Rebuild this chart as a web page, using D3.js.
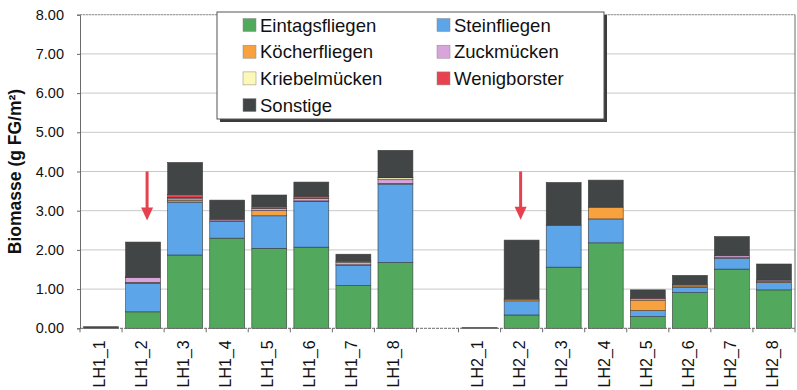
<!DOCTYPE html>
<html>
<head>
<meta charset="utf-8">
<script src="https://cdn.jsdelivr.net/npm/d3@7"></script>
<style>
  html, body { margin: 0; padding: 0; background: #fff; }
  svg { display: block; font-family: Arial, "Liberation Sans", sans-serif; }
</style>
</head>
<body>
<svg id="chart" width="797" height="390"></svg>
<script>
// Sampling sites (empty slot separates the two groups)
const categories = ["LH1_1","LH1_2","LH1_3","LH1_4","LH1_5","LH1_6","LH1_7","LH1_8","",
                    "LH2_1","LH2_2","LH2_3","LH2_4","LH2_5","LH2_6","LH2_7","LH2_8"];

// Biomass per taxon group (g FG/m²)
const eintagsfliegen = [0, 0.42, 1.87, 2.30, 2.04, 2.07, 1.09, 1.68, 0, 0, 0.34, 1.56, 2.18, 0.30, 0.91, 1.51, 0.98];
const steinfliegen   = [0, 0.73, 1.35, 0.42, 0.83, 1.17, 0.51, 2.00, 0, 0, 0.36, 1.07, 0.61, 0.15, 0.13, 0.28, 0.19];
const koecherfliegen = [0, 0.02, 0.05, 0.02, 0.13, 0.01, 0.02, 0.01, 0, 0, 0.03, 0.00, 0.30, 0.27, 0.04, 0.01, 0.02];
const zuckmuecken    = [0, 0.13, 0.05, 0.04, 0.06, 0.06, 0.06, 0.10, 0, 0, 0.02, 0.00, 0.00, 0.04, 0.03, 0.05, 0.04];
const kriebelmuecken = [0, 0.00, 0.02, 0.00, 0.00, 0.00, 0.02, 0.05, 0, 0, 0.00, 0.00, 0.00, 0.00, 0.00, 0.00, 0.00];
const wenigborster   = [0, 0.01, 0.07, 0.02, 0.04, 0.06, 0.03, 0.01, 0, 0, 0.00, 0.00, 0.00, 0.02, 0.00, 0.00, 0.00];
const sonstige       = [0.04, 0.89, 0.82, 0.47, 0.30, 0.36, 0.16, 0.69, 0, 0.02, 1.50, 1.09, 0.69, 0.20, 0.24, 0.49, 0.41];

const seriesNames  = ["Eintagsfliegen","Steinfliegen","Köcherfliegen","Zuckmücken","Kriebelmücken","Wenigborster","Sonstige"];
const seriesValues = [eintagsfliegen, steinfliegen, koecherfliegen, zuckmuecken, kriebelmuecken, wenigborster, sonstige];
const seriesColors = ["#52a85d","#5ba5e8","#f8a13f","#d7a5dc","#fbf8b8","#e8414f","#424545"];

const yTicks = [0,1,2,3,4,5,6,7,8];
const yMax = 8;

// Arrows marking sampled sites
const arrows = [{cat: "LH1_2", top: 4.0, tip: 2.75, dx: 4}, {cat: "LH2_2", top: 4.0, tip: 2.77, dx: -1}];

const svg = d3.select("#chart");
const plot = {left: 80, right: 795, top: 14.7, bottom: 328.3};

const x = d3.scaleBand().domain(categories.map((c, i) => i))
  .range([plot.left, plot.right]).paddingInner(0.17).paddingOuter(0.085);
const y = d3.scaleLinear().domain([0, yMax]).range([plot.bottom, plot.top]);

// Gridlines
svg.append("g").selectAll("line").data(yTicks.slice(1)).join("line")
  .attr("x1", plot.left).attr("x2", plot.right)
  .attr("y1", d => y(d)).attr("y2", d => y(d))
  .attr("stroke", "#c8c8c8").attr("stroke-width", 1);

// Plot frame
svg.append("line").attr("x1", plot.left).attr("x2", plot.right)
  .attr("y1", y(yMax)).attr("y2", y(yMax))
  .attr("stroke", "#9a9a9a").attr("stroke-dasharray", "2,1");
svg.append("line").attr("x1", plot.right).attr("x2", plot.right)
  .attr("y1", y(yMax)).attr("y2", y(0)).attr("stroke", "#6a6a6a");

// Stacked data
const rows = categories.map((c, i) => {
  const r = {idx: i};
  seriesNames.forEach((s, k) => r[s] = seriesValues[k][i]);
  return r;
});
const stacked = d3.stack().keys(seriesNames)(rows);

svg.append("g").selectAll("g").data(stacked).join("g")
  .attr("fill", (d, k) => seriesColors[k])
  .selectAll("rect").data(d => d.filter(p => p[1] - p[0] > 0)).join("rect")
  .attr("x", p => x(p.data.idx))
  .attr("width", x.bandwidth())
  .attr("y", p => y(p[1]))
  .attr("height", p => y(p[0]) - y(p[1]))
  .attr("stroke", "#3a3a3a").attr("stroke-width", 0.6);

// Y axis
const yAxis = svg.append("g").attr("transform", `translate(${plot.left},0)`)
  .call(d3.axisLeft(y).tickValues(yTicks).tickFormat(d3.format(".2f")).tickSize(3).tickPadding(13));
yAxis.select(".domain").attr("stroke", "#6a6a6a");
yAxis.selectAll(".tick line").attr("stroke", "#6a6a6a");
yAxis.selectAll("text").attr("font-size", 14.5).attr("fill", "#111").attr("font-family", "Arial, 'Liberation Sans', sans-serif");

// X axis with ticks on category boundaries
const xAxisG = svg.append("g").attr("transform", `translate(0,${plot.bottom})`);
xAxisG.append("line").attr("x1", plot.left).attr("x2", plot.right)
  .attr("stroke", "#6a6a6a").attr("stroke-dasharray", "3,1");
xAxisG.selectAll("line.tk").data(d3.range(categories.length + 1)).join("line")
  .attr("class", "tk")
  .attr("x1", i => plot.left + i * (plot.right - plot.left) / categories.length)
  .attr("x2", i => plot.left + i * (plot.right - plot.left) / categories.length)
  .attr("y1", 0).attr("y2", 4).attr("stroke", "#6a6a6a");
xAxisG.selectAll("text").data(categories.map((c, i) => ({c, i})).filter(d => d.c)).join("text")
  .attr("transform", d => `translate(${x(d.i) + x.bandwidth() / 2 - 2},12) rotate(-90)`)
  .attr("text-anchor", "end").attr("dy", "0.36em")
  .attr("font-size", 16).attr("fill", "#111")
  .text(d => d.c);

// Y axis title
svg.append("text")
  .attr("transform", `translate(21,${(plot.top + plot.bottom) / 2}) rotate(-90)`)
  .attr("text-anchor", "middle")
  .attr("font-size", 17.5).attr("font-weight", "bold").attr("fill", "#111")
  .text("Biomasse (g FG/m²)");

// Arrows
const arrowG = svg.append("g");
arrows.forEach(a => {
  const i = categories.indexOf(a.cat);
  const cx = x(i) + x.bandwidth() / 2 + a.dx;
  const yTop = y(a.top), yTip = y(a.tip);
  arrowG.append("line").attr("x1", cx).attr("x2", cx)
    .attr("y1", yTop).attr("y2", yTip - 12)
    .attr("stroke", "#e8404e").attr("stroke-width", 3);
  arrowG.append("path")
    .attr("d", `M${cx - 6},${yTip - 13} L${cx + 6},${yTip - 13} L${cx},${yTip} Z`)
    .attr("fill", "#e8404e");
});

// Legend
const legend = svg.append("g").attr("transform", "translate(217,12)");
legend.append("rect").attr("x", 3).attr("y", 3).attr("width", 387).attr("height", 107).attr("fill", "#3c3c3c");
legend.append("rect").attr("x", 0).attr("y", 0).attr("width", 387).attr("height", 107)
  .attr("fill", "#fff").attr("stroke", "#555").attr("stroke-width", 1);
seriesNames.forEach((s, k) => {
  const col = k % 2, row = Math.floor(k / 2);
  const gx = col === 0 ? 26 : 220;
  const gy = 13 + row * 26.7;
  legend.append("rect").attr("x", gx).attr("y", gy - 6.5).attr("width", 13).attr("height", 13)
    .attr("fill", seriesColors[k]).attr("stroke", "#888").attr("stroke-width", 0.5);
  legend.append("text").attr("x", gx + 17).attr("y", gy).attr("dy", "0.36em")
    .attr("font-size", 18.5).attr("fill", "#111").text(s);
});
</script>
</body>
</html>
